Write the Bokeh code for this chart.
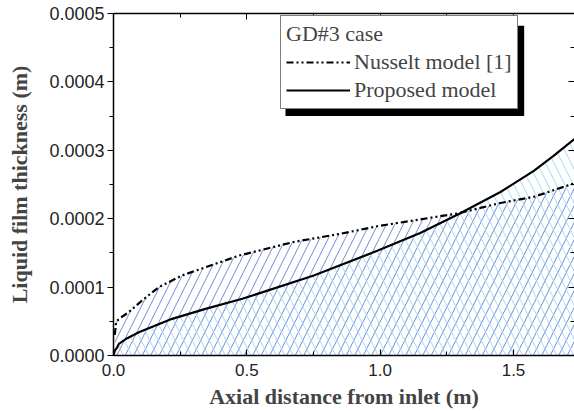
from bokeh.plotting import figure
from bokeh.models import (Range1d, LinearAxis, Legend, LegendItem,
                          PrintfTickFormatter, SingleIntervalTicker,
                          CustomJSTickFormatter)
from bokeh.embed import file_html
from bokeh.resources import INLINE

# Data
x_nusselt = [0.005, 0.01, 0.03, 0.057, 0.107, 0.17, 0.257, 0.345, 0.47, 0.676, 0.851,
             0.989, 1.15, 1.295, 1.451, 1.576, 1.73]
y_nusselt = [0.000030, 0.000050, 0.000056, 0.0000633, 0.0000804, 0.000100, 0.000117,
             0.000129, 0.000146, 0.000166, 0.000178, 0.000189, 0.000199, 0.000208,
             0.000223, 0.000232, 0.000252]

x_proposed = [0.0, 0.005, 0.014, 0.02, 0.05, 0.095, 0.22, 0.345, 0.483, 0.751, 0.989,
              1.15, 1.295, 1.451, 1.576, 1.65, 1.73]
y_proposed = [0.0, 0.000007, 0.000012, 0.000017, 0.000025, 0.000034, 0.0000536,
              0.0000682, 0.0000829, 0.000117, 0.000153, 0.000179, 0.000207, 0.000239,
              0.000270, 0.000292, 0.000317]

SERIF = "Liberation Serif"
SANS = "Liberation Sans"

p = figure(width=574, height=412, output_backend="svg", toolbar_location=None,
           x_range=Range1d(0, 1.7287), y_range=Range1d(0, 0.0005),
           x_axis_location=None, y_axis_location=None,
           min_border_left=113, min_border_right=0, min_border_top=13,
           min_border_bottom=57)
p.outline_line_color = None
p.grid.visible = False
p.background_fill_color = "white"

# hatched areas
p.varea(x=x_nusselt, y1=0, y2=y_nusselt, fill_color=None, fill_alpha=0,
        hatch_pattern="/", hatch_color="#7489d4", hatch_scale=17, hatch_weight=1)
p.varea(x=x_proposed, y1=0, y2=y_proposed, fill_color=None, fill_alpha=0,
        hatch_pattern="\\", hatch_color="#a6d9ef", hatch_scale=17, hatch_weight=1)

r_n = p.line(x_nusselt, y_nusselt, line_color="black", line_width=2.2,
             line_dash="7 3 2 3 2 3")
r_p = p.line(x_proposed, y_proposed, line_color="black", line_width=2.2)

# legend shadow: a black box offset a few px right/down of the legend box
p.quad(left=[0.645], right=[1.54], top=[0.000482], bottom=[0.000350],
       fill_color="black", line_color=None)

# axes
yax = LinearAxis(ticker=SingleIntervalTicker(interval=0.0001, num_minor_ticks=2),
                 formatter=PrintfTickFormatter(format="%.4f"),
                 axis_label="Liquid film thickness (m)")
yax.major_label_text_font = SANS
yax.major_label_text_font_size = "18px"
yax.major_label_text_color = "#222222"
yax.axis_label_text_font = SERIF
yax.axis_label_text_font_style = "bold"
yax.axis_label_text_font_size = "22px"
yax.axis_label_standoff = 14
yax.major_tick_out = 6
yax.major_tick_in = 0
yax.minor_tick_out = 4
yax.minor_tick_in = 0
yax.major_label_standoff = 3
yax.axis_line_width = 1.5
yax.major_tick_line_width = 1.2
p.add_layout(yax, "left")

xax = LinearAxis(ticker=SingleIntervalTicker(interval=0.5, num_minor_ticks=2),
                 formatter=PrintfTickFormatter(format="%.1f"),
                 axis_label="Axial distance from inlet (m)")
xax.major_label_text_font = SANS
xax.major_label_text_font_size = "17px"
xax.major_label_text_color = "#222222"
xax.axis_label_text_font = SERIF
xax.axis_label_text_font_style = "bold"
xax.axis_label_text_font_size = "22px"
xax.axis_label_standoff = 5
xax.major_tick_out = 0
xax.major_tick_in = 6
xax.minor_tick_out = 0
xax.minor_tick_in = 4
xax.major_label_standoff = 8
xax.axis_line_width = 1.5
xax.major_tick_line_width = 1.2
p.add_layout(xax, "below")

tax = LinearAxis(ticker=SingleIntervalTicker(interval=0.5, num_minor_ticks=2),
                 formatter=CustomJSTickFormatter(code="return ''"))
tax.major_label_text_font_size = "10px"
tax.major_label_standoff = 0
tax.major_tick_out = 0
tax.major_tick_in = 6
tax.minor_tick_out = 0
tax.minor_tick_in = 4
tax.axis_line_width = 1.5
p.add_layout(tax, "above")

rax = LinearAxis(ticker=SingleIntervalTicker(interval=0.0001, num_minor_ticks=2),
                 formatter=CustomJSTickFormatter(code="return ''"))
rax.major_label_text_font_size = "10px"
rax.major_label_standoff = 0
rax.major_tick_out = 0
rax.major_tick_in = 6
rax.minor_tick_out = 0
rax.minor_tick_in = 4
rax.axis_line_color = None
p.add_layout(rax, "right")

legend = Legend(items=[LegendItem(label="Nusselt model [1]", renderers=[r_n]),
                       LegendItem(label="Proposed model", renderers=[r_p])],
                title="GD#3 case", location=(167, 246))
legend.title_text_font = SERIF
legend.title_text_font_size = "22px"
legend.title_text_font_style = "normal"
legend.title_standoff = 2
legend.label_text_font = SERIF
legend.label_text_font_size = "22px"
legend.label_standoff = 4
legend.glyph_width = 64
legend.glyph_height = 24
legend.label_height = 24
legend.spacing = 2
legend.padding = 5
legend.margin = 0
legend.border_line_color = "black"
legend.border_line_width = 1.2
legend.background_fill_color = "white"
legend.background_fill_alpha = 1.0
p.add_layout(legend, "center")

open("out.html", "w").write(file_html(p, INLINE))
